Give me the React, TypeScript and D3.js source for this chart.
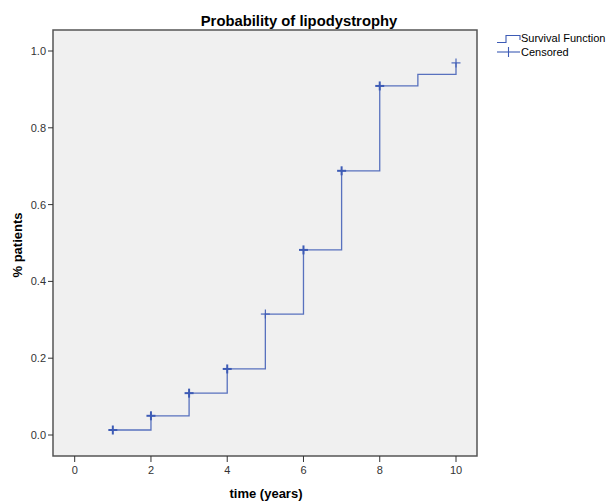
import * as React from "react";
import * as d3 from "d3";

// Kaplan-Meier style cumulative curve
const times = [1, 2, 3, 4, 5, 6, 7, 8, 9, 10];
const probs = [0.013, 0.05, 0.109, 0.172, 0.315, 0.482, 0.688, 0.909, 0.939, 0.969];
// how many censored marks stack at each time (bold = several)
const censored = [2, 2, 2, 2, 1, 2, 2, 2, 0, 1];

const xTicks = [0, 2, 4, 6, 8, 10];
const yTicks = [0.0, 0.2, 0.4, 0.6, 0.8, 1.0];

const lineColor = "#3d5bb5";

export default function App() {
  const width = 608;
  const height = 502;
  const frame = { left: 53, right: 477, top: 30, bottom: 456 };

  const x = d3.scaleLinear().domain([0, 10]).range([74.7, 456]);
  const y = d3.scaleLinear().domain([0, 1]).range([435, 51]);

  const pts: [number, number][] = times.map((t, i) => [t, probs[i]]);
  const step = d3
    .line<[number, number]>()
    .x((d) => x(d[0]))
    .y((d) => y(d[1]))
    .curve(d3.curveStepAfter);

  return (
    <svg
      width={width}
      height={height}
      style={{ position: "absolute", left: 0, top: 0 }}
      fontFamily="Arial, 'Liberation Sans', sans-serif"
    >
      <rect x={0} y={0} width={width} height={height} fill="#fff" />
      <rect
        x={frame.left}
        y={frame.top}
        width={frame.right - frame.left}
        height={frame.bottom - frame.top}
        fill="#f0f0f0"
        stroke="#555"
        strokeWidth={1.5}
      />

      <text x={299} y={26} textAnchor="middle" fontSize={14.8} fontWeight="bold" fill="#000">
        Probability of lipodystrophy
      </text>

      {/* y axis */}
      {yTicks.map((t) => (
        <g key={t}>
          <line x1={frame.left - 5} x2={frame.left} y1={y(t)} y2={y(t)} stroke="#333" />
          <text x={frame.left - 7} y={y(t) + 4} textAnchor="end" fontSize={11} fill="#333">
            {t.toFixed(1)}
          </text>
        </g>
      ))}
      <text
        transform={`translate(22,${(frame.top + frame.bottom) / 2 + 2}) rotate(-90)`}
        textAnchor="middle"
        fontSize={13}
        fontWeight="bold"
        fill="#000"
      >
        % patients
      </text>

      {/* x axis */}
      {xTicks.map((t) => (
        <g key={t}>
          <line x1={x(t)} x2={x(t)} y1={frame.bottom} y2={frame.bottom + 6} stroke="#333" />
          <text x={x(t)} y={frame.bottom + 18} textAnchor="middle" fontSize={11} fill="#333">
            {t}
          </text>
        </g>
      ))}
      <text x={266} y={498} textAnchor="middle" fontSize={13} fontWeight="bold" fill="#000">
        time (years)
      </text>

      {/* survival curve */}
      <path d={step(pts) ?? ""} fill="none" stroke={lineColor} strokeWidth={1.3} strokeOpacity={0.85} />
      {pts.map((d, i) =>
        censored[i] > 0 ? (
          <g key={i} stroke={lineColor} strokeWidth={censored[i] > 1 ? 2 : 1.1}>
            <line x1={x(d[0]) - 4.5} x2={x(d[0]) + 4.5} y1={y(d[1])} y2={y(d[1])} />
            <line x1={x(d[0])} x2={x(d[0])} y1={y(d[1]) - 4.5} y2={y(d[1]) + 4.5} />
          </g>
        ) : null
      )}

      {/* legend */}
      <g stroke={lineColor} fill="none" strokeWidth={1.1}>
        <path d="M497,42.5 H506 V35.5 H520 V40" />
        <line x1={497} x2={520} y1={52} y2={52} />
        <line x1={508.5} x2={508.5} y1={47} y2={57} />
      </g>
      <text x={521} y={42} fontSize={11} fill="#000">
        Survival Function
      </text>
      <text x={521} y={56} fontSize={11} fill="#000">
        Censored
      </text>
    </svg>
  );
}
